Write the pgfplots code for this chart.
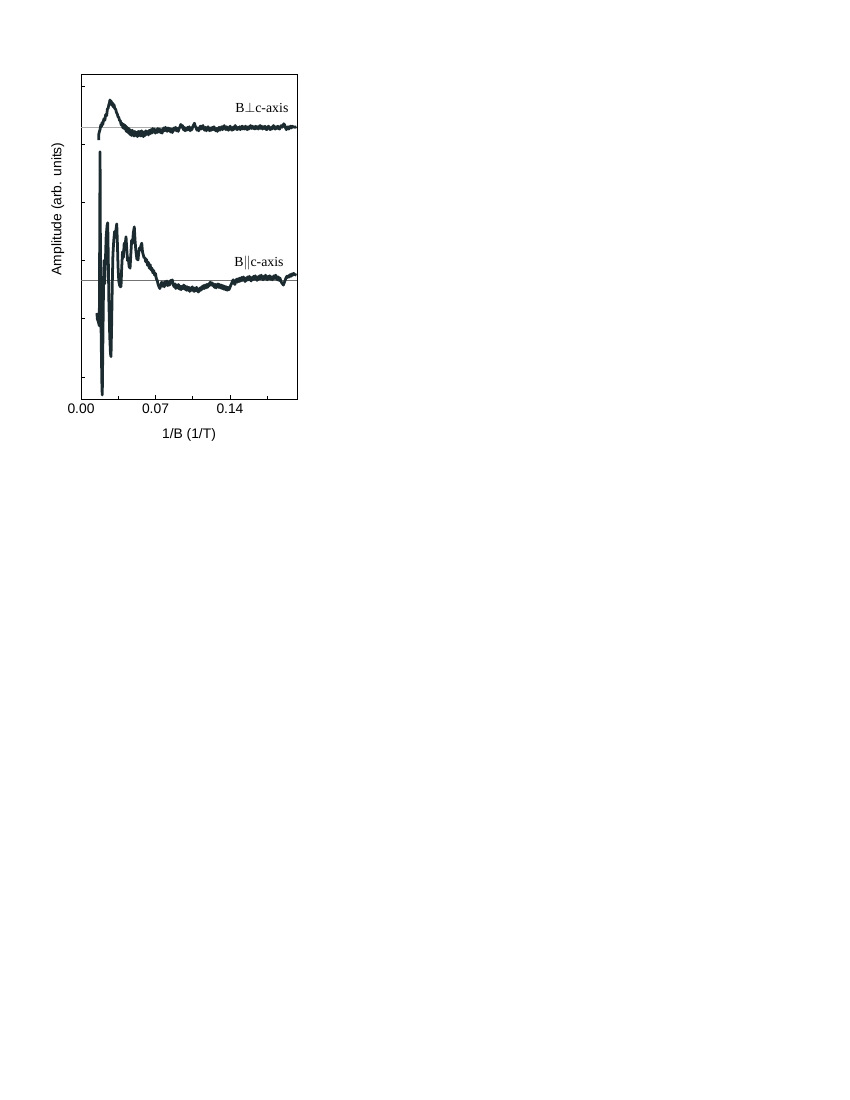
\documentclass[border=0pt]{standalone}
\usepackage{pgfplots}
\pgfplotsset{compat=1.18}
\usepackage{fontspec}
\setmainfont{Liberation Serif}
\newfontfamily\arial{Liberation Sans}
\definecolor{trace}{HTML}{1B2B30}

\pgfplotstableread{
x y
0.0166 4.07
0.0168 4.18
0.0172 4.21
0.0180 4.26
0.0186 4.33
0.0192 4.30
0.0198 4.37
0.0205 4.34
0.0210 4.40
0.0217 4.44
0.0224 4.41
0.0232 4.51
0.0241 4.49
0.0248 4.60
0.0255 4.62
0.0262 4.68
0.0266 4.70
0.0272 4.76
0.0278 4.71
0.0284 4.74
0.0290 4.67
0.0296 4.71
0.0303 4.64
0.0310 4.68
0.0318 4.61
0.0326 4.60
0.0334 4.54
0.0341 4.52
0.0348 4.47
0.0355 4.46
0.0362 4.41
0.0370 4.40
0.0378 4.33
0.0386 4.36
0.0394 4.28
0.0402 4.34
0.0410 4.26
0.0418 4.32
0.0426 4.22
0.0434 4.29
0.0442 4.20
0.0450 4.27
0.0458 4.17
0.0466 4.24
0.0474 4.15
0.0482 4.24
0.0490 4.17
0.0498 4.14
0.0506 4.22
0.0514 4.15
0.0522 4.20
0.0530 4.13
0.0538 4.22
0.0546 4.15
0.0554 4.22
0.0562 4.14
0.0570 4.23
0.0578 4.17
0.0586 4.13
0.0594 4.21
0.0602 4.15
0.0610 4.23
0.0618 4.17
0.0626 4.22
0.0634 4.16
0.0642 4.24
0.0650 4.18
0.0658 4.25
0.0666 4.19
0.0674 4.27
0.0682 4.21
0.0690 4.26
0.0698 4.19
0.0706 4.25
0.0714 4.20
0.0722 4.27
0.0730 4.21
0.0738 4.26
0.0746 4.20
0.0754 4.25
0.0762 4.19
0.0770 4.24
0.0778 4.28
0.0786 4.23
0.0794 4.29
0.0802 4.24
0.0810 4.22
0.0818 4.28
0.0826 4.23
0.0834 4.27
0.0842 4.21
0.0850 4.26
0.0858 4.20
0.0866 4.25
0.0874 4.28
0.0882 4.24
0.0890 4.29
0.0898 4.23
0.0906 4.27
0.0914 4.22
0.0922 4.27
0.0930 4.30
0.0938 4.34
0.0946 4.29
0.0954 4.32
0.0962 4.25
0.0970 4.29
0.0978 4.23
0.0986 4.28
0.0994 4.24
0.1002 4.29
0.1010 4.25
0.1018 4.30
0.1026 4.23
0.1034 4.28
0.1042 4.25
0.1050 4.30
0.1058 4.33
0.1066 4.36
0.1074 4.31
0.1082 4.28
0.1090 4.24
0.1098 4.28
0.1106 4.23
0.1114 4.28
0.1122 4.31
0.1130 4.26
0.1138 4.30
0.1146 4.32
0.1154 4.26
0.1162 4.24
0.1170 4.29
0.1178 4.23
0.1186 4.28
0.1194 4.30
0.1202 4.25
0.1210 4.23
0.1218 4.28
0.1226 4.24
0.1234 4.29
0.1242 4.25
0.1250 4.30
0.1258 4.26
0.1266 4.23
0.1274 4.27
0.1282 4.22
0.1290 4.27
0.1298 4.29
0.1306 4.24
0.1314 4.28
0.1322 4.30
0.1330 4.25
0.1338 4.29
0.1346 4.32
0.1354 4.27
0.1362 4.25
0.1370 4.30
0.1378 4.26
0.1386 4.24
0.1394 4.28
0.1402 4.31
0.1410 4.26
0.1418 4.24
0.1426 4.29
0.1434 4.25
0.1442 4.30
0.1450 4.32
0.1458 4.27
0.1466 4.25
0.1474 4.29
0.1482 4.26
0.1490 4.30
0.1498 4.25
0.1506 4.29
0.1514 4.31
0.1522 4.26
0.1530 4.30
0.1538 4.26
0.1546 4.31
0.1554 4.27
0.1562 4.25
0.1570 4.30
0.1578 4.26
0.1586 4.30
0.1594 4.32
0.1602 4.27
0.1610 4.31
0.1618 4.27
0.1626 4.30
0.1634 4.26
0.1642 4.31
0.1650 4.27
0.1658 4.30
0.1666 4.26
0.1674 4.30
0.1682 4.32
0.1690 4.27
0.1698 4.31
0.1706 4.26
0.1714 4.30
0.1722 4.27
0.1730 4.31
0.1738 4.26
0.1746 4.25
0.1754 4.29
0.1762 4.31
0.1770 4.27
0.1778 4.25
0.1786 4.29
0.1794 4.26
0.1802 4.30
0.1810 4.32
0.1818 4.27
0.1826 4.26
0.1834 4.30
0.1842 4.27
0.1850 4.31
0.1858 4.27
0.1866 4.26
0.1874 4.30
0.1882 4.32
0.1890 4.29
0.1898 4.32
0.1906 4.35
0.1914 4.33
0.1922 4.28
0.1930 4.25
0.1938 4.28
0.1946 4.30
0.1954 4.26
0.1962 4.29
0.1970 4.31
0.1978 4.28
0.1986 4.31
0.1994 4.29
0.2002 4.30
0.2010 4.29
0.2025 4.30
}\perpdata

\pgfplotstableread{
x y
0.0150 1.10
0.0153 1.00
0.0163 0.95
0.0172 0.88
0.0176 2.50
0.0179 3.87
0.0183 2.00
0.0190 0.60
0.0197 -0.20
0.0200 -0.31
0.0205 0.50
0.0210 1.30
0.0216 2.00
0.0222 1.60
0.0228 1.90
0.0236 2.40
0.0245 2.60
0.0251 2.65
0.0256 2.10
0.0262 1.30
0.0270 0.70
0.0277 0.40
0.0282 0.35
0.0288 0.90
0.0294 1.60
0.0300 2.10
0.0308 2.35
0.0316 2.50
0.0324 2.40
0.0330 2.55
0.0336 2.63
0.0342 2.30
0.0348 1.90
0.0355 1.65
0.0362 1.58
0.0370 1.55
0.0376 1.55
0.0382 1.85
0.0390 2.15
0.0398 2.05
0.0406 2.30
0.0414 2.25
0.0423 2.41
0.0430 2.20
0.0437 2.00
0.0444 2.05
0.0452 1.90
0.0461 1.87
0.0468 2.10
0.0476 2.35
0.0484 2.30
0.0492 2.48
0.0501 2.58
0.0508 2.35
0.0514 2.20
0.0520 2.10
0.0526 2.02
0.0531 2.08
0.0536 2.01
0.0543 2.15
0.0550 2.22
0.0556 2.18
0.0562 2.25
0.0571 2.30
0.0578 2.15
0.0585 2.10
0.0592 2.05
0.0600 2.05
0.0608 1.98
0.0616 2.02
0.0625 1.92
0.0633 1.97
0.0642 1.87
0.0650 1.93
0.0658 1.84
0.0667 1.87
0.0675 1.79
0.0683 1.83
0.0692 1.75
0.0700 1.78
0.0708 1.69
0.0716 1.66
0.0725 1.59
0.0733 1.55
0.0741 1.52
0.0750 1.57
0.0758 1.63
0.0766 1.56
0.0775 1.62
0.0783 1.55
0.0791 1.64
0.0800 1.58
0.0808 1.65
0.0816 1.57
0.0825 1.63
0.0833 1.58
0.0841 1.66
0.0850 1.62
0.0858 1.67
0.0866 1.59
0.0875 1.55
0.0883 1.60
0.0891 1.52
0.0900 1.58
0.0908 1.53
0.0916 1.59
0.0925 1.51
0.0933 1.56
0.0941 1.50
0.0950 1.56
0.0958 1.52
0.0966 1.58
0.0974 1.51
0.0982 1.56
0.0990 1.49
0.0998 1.55
0.1006 1.49
0.1014 1.54
0.1022 1.47
0.1030 1.53
0.1038 1.49
0.1046 1.55
0.1054 1.50
0.1062 1.47
0.1070 1.53
0.1078 1.48
0.1086 1.54
0.1094 1.50
0.1102 1.46
0.1110 1.48
0.1118 1.53
0.1126 1.49
0.1134 1.55
0.1142 1.51
0.1150 1.57
0.1158 1.52
0.1166 1.58
0.1174 1.53
0.1182 1.59
0.1190 1.54
0.1198 1.60
0.1206 1.57
0.1214 1.63
0.1222 1.58
0.1230 1.62
0.1238 1.57
0.1246 1.60
0.1254 1.54
0.1262 1.59
0.1270 1.53
0.1278 1.58
0.1286 1.60
0.1294 1.54
0.1302 1.59
0.1310 1.53
0.1318 1.58
0.1326 1.52
0.1334 1.57
0.1342 1.51
0.1350 1.56
0.1358 1.50
0.1366 1.55
0.1374 1.49
0.1382 1.54
0.1390 1.50
0.1398 1.53
0.1406 1.57
0.1414 1.60
0.1422 1.64
0.1430 1.67
0.1438 1.62
0.1446 1.59
0.1454 1.65
0.1462 1.68
0.1470 1.63
0.1478 1.69
0.1486 1.64
0.1494 1.70
0.1502 1.65
0.1510 1.71
0.1518 1.66
0.1526 1.72
0.1534 1.67
0.1542 1.64
0.1550 1.70
0.1558 1.66
0.1566 1.72
0.1574 1.67
0.1582 1.73
0.1590 1.68
0.1598 1.65
0.1606 1.71
0.1614 1.67
0.1622 1.73
0.1630 1.68
0.1638 1.74
0.1646 1.69
0.1654 1.66
0.1662 1.72
0.1670 1.68
0.1678 1.74
0.1686 1.69
0.1694 1.75
0.1702 1.70
0.1710 1.67
0.1718 1.73
0.1726 1.69
0.1734 1.75
0.1742 1.70
0.1750 1.67
0.1758 1.73
0.1766 1.69
0.1774 1.74
0.1782 1.68
0.1790 1.72
0.1798 1.67
0.1806 1.71
0.1814 1.74
0.1822 1.69
0.1830 1.75
0.1838 1.70
0.1846 1.67
0.1854 1.72
0.1862 1.66
0.1870 1.70
0.1878 1.65
0.1886 1.62
0.1894 1.60
0.1902 1.58
0.1910 1.62
0.1918 1.66
0.1926 1.70
0.1934 1.73
0.1942 1.71
0.1950 1.74
0.1958 1.72
0.1966 1.76
0.1974 1.73
0.1982 1.77
0.1990 1.75
0.1998 1.78
0.2010 1.76
0.2025 1.75
}\pardata

\begin{document}
\begin{tikzpicture}
% full page, chart sits in the upper left corner
\path[use as bounding box] (0,0) rectangle (8.5in,-11in);
\begin{axis}[
  at={(0.81in,-0.74in)}, anchor=north west,
  scale only axis, width=2.16in, height=3.25in,
  xmin=0, xmax=0.203, ymin=-0.378, ymax=5.206,
  xtick={0,0.07,0.14}, minor xtick={0.035,0.105,0.175},
  ytick={0,1,2,3,4,5}, yticklabels={},
  xtick pos=bottom, ytick pos=left, tick align=inside,
  major tick length=3pt, minor tick length=2pt,
  tick style={black, line width=0.5pt},
  axis line style={line width=0.6pt},
  /pgf/number format/assume math mode=true,
  xticklabel style={font=\arial\fontsize{10}{12}\selectfont,
    /pgf/number format/.cd, fixed, fixed zerofill, precision=2},
  scaled x ticks=false,
  xlabel={\arial 1/B (1/T)},
  ylabel={\arial Amplitude (arb. units)},
  label style={font=\fontsize{10}{12}\selectfont},
  xlabel style={at={(axis description cs:0.5,-0.11)}, anchor=center},
  ylabel style={at={(axis description cs:-0.107,0.585)}, anchor=center},
]
\addplot[gray!65, line width=0.7pt, forget plot] coordinates {(0,4.28) (0.203,4.28)};
\addplot[gray!90!black, line width=0.7pt, forget plot] coordinates {(0,1.66) (0.203,1.66)};
\addplot[trace, line width=2pt, line join=round] table {\perpdata};
\addplot[trace, line width=2pt, line join=round] table {\pardata};
\node[anchor=east, font=\fontsize{10}{12}\selectfont] at (axis cs:0.1995,4.62) {B$\perp$c-axis};
\node[anchor=east, font=\fontsize{10}{12}\selectfont] at (axis cs:0.1950,1.96) {B$\|$c-axis};
\end{axis}
\end{tikzpicture}
\end{document}
